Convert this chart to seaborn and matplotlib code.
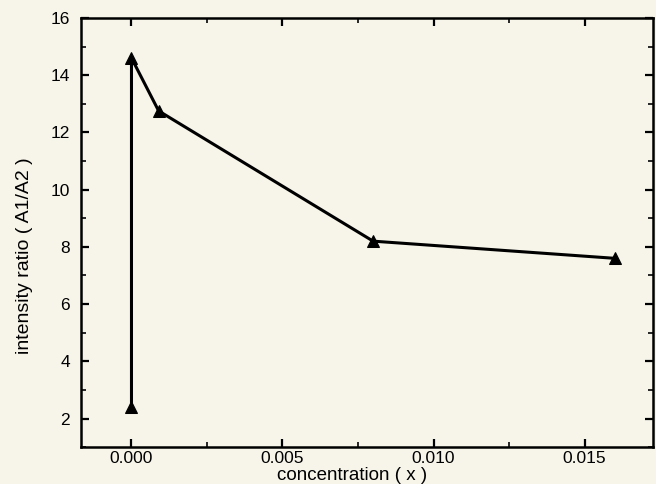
import matplotlib
matplotlib.use("Agg")
import matplotlib.pyplot as plt
import seaborn as sns
import pandas as pd
from matplotlib.ticker import MultipleLocator

concentration = [0.0, 0.0, 0.0009, 0.008, 0.016]
intensity_ratio = [2.4, 14.6, 12.75, 8.2, 7.6]

df = pd.DataFrame({"x": concentration, "y": intensity_ratio})

sns.set_theme(style="ticks")
plt.rcParams["font.family"] = ["Liberation Sans", "DejaVu Sans"]

bg = "#f7f5ea"
fig = plt.figure(figsize=(6.56, 4.84), dpi=100, facecolor=bg)
ax = fig.add_axes([0.124, 0.076, 0.872, 0.887], facecolor=bg)

sns.lineplot(data=df, x="x", y="y", sort=False, estimator=None, ax=ax,
             color="black", linewidth=2.2, marker="^", markersize=8.5,
             markeredgecolor="black", markerfacecolor="black")

ax.set_xlim(-0.00166, 0.01728)
ax.set_ylim(1, 16)
ax.xaxis.set_minor_locator(MultipleLocator(0.0025))
ax.yaxis.set_minor_locator(MultipleLocator(1))
ax.set_xticks([0.0, 0.005, 0.010, 0.015])
ax.set_xticklabels(["0.000", "0.005", "0.010", "0.015"])
ax.set_yticks([2, 4, 6, 8, 10, 12, 14, 16])
ax.set_yticklabels([str(v) for v in [2, 4, 6, 8, 10, 12, 14, 16]])

ax.tick_params(which="major", direction="in", length=6, width=1.6,
               top=True, right=True, labelsize=12.5, colors="black")
ax.tick_params(axis="y", which="major", pad=8)
ax.tick_params(axis="x", which="major", pad=3)
ax.tick_params(which="minor", direction="in", length=3.5, width=1.4,
               top=True, right=True)
for s in ax.spines.values():
    s.set_linewidth(1.8)
    s.set_color("black")

ax.set_xlabel("concentration ( x )", fontsize=13.5, color="black")
ax.set_ylabel("intensity ratio ( A1/A2 )", fontsize=14, color="black")
ax.xaxis.set_label_coords(0.474, -0.045)
ax.yaxis.set_label_coords(-0.1, 0.447)
ax.xaxis.label.set_verticalalignment("top")
ax.yaxis.label.set_verticalalignment("center")

fig.savefig("out.png", dpi=100, facecolor=bg)
